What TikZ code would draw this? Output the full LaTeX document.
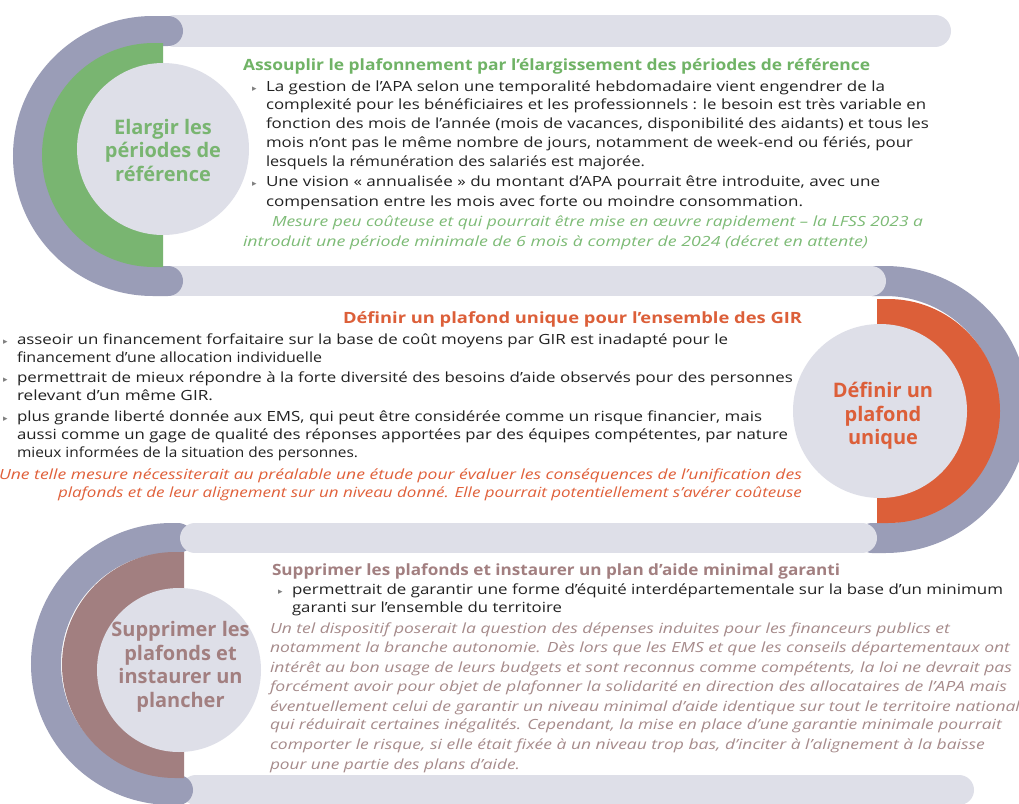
\documentclass[tikz,border=0pt]{standalone}
\usepackage{fontspec}
\setmainfont{Open Sans}
\newfontfamily\symfont{DejaVu Sans}
\usepackage{graphicx}
\definecolor{bandc}{HTML}{DEDFE8}
\definecolor{arcc}{HTML}{9A9DB7}
\definecolor{cgreen}{HTML}{79B571}
\definecolor{tgreen}{HTML}{70B366}
\definecolor{igreen}{HTML}{7DBB76}
\definecolor{corange}{HTML}{DC5F39}
\definecolor{iorange}{HTML}{E0603A}
\definecolor{cmauve}{HTML}{A27F80}
\definecolor{imauve}{HTML}{A68B8B}
\definecolor{bodyc}{HTML}{222222}
\definecolor{bulc}{HTML}{808080}
\newcommand\fitw[2]{\resizebox{#1pt}{\height}{#2}}
\newcommand\Ln[5]{\node[#1] (#2) at (#3) {\fitw{#4}{#5}};}
\begin{document}
\begin{tikzpicture}[x=1pt,y=-1pt,
  txt/.style={anchor=base west,inner sep=0pt,outer sep=0pt},
  body/.style={txt,font=\fontsize{14}{17}\selectfont,text=bodyc},
  bodyit/.style={txt,font=\fontsize{14}{17}\selectfont\itshape},
  ttl/.style={txt,font=\fontsize{15.5}{18}\selectfont\bfseries},
  bul/.style={txt,font=\symfont\fontsize{9}{9}\selectfont,text=bulc},
  lbl/.style={align=center,inner sep=0pt,font=\fontsize{20}{23.5}\selectfont\bfseries},
  bandst/.style={draw=bandc,line width=30pt,line cap=round},
  arcst/.style={draw=arcc,line width=30pt,line cap=round}]
\useasboundingbox (0,0) rectangle (1019,803);
\fill[white] (0,0) rectangle (1019,803);
% bands and arcs
\path[bandst] (196,790) -- (959,790);
\path[arcst] (178,538) -- (172,538) arc[start angle=270,end angle=90,radius=126] -- (178,790);
\path[arcst] (872,281) -- (885,281) arc[start angle=-90,end angle=90,radius=128.5] -- (872,538);
\path[bandst,line width=32pt] (175,31) -- (935,31);
\path[bandst] (170,281) -- (871,281);
\path[bandst] (195,538) -- (862,538);
\path[arcst] (168,31) -- (153,31) arc[start angle=270,end angle=90,radius=125] -- (168,281);
% half disks
\fill[cgreen] (163,43) -- (154,43) arc[start angle=270,end angle=90,radius=112] -- (163,267) -- cycle;
\fill[corange] (877,299) -- (888,299) arc[start angle=-90,end angle=90,radius=112] -- (877,523) -- cycle;
\fill[cmauve] (184,552) -- (175,552) arc[start angle=270,end angle=90,radius=113] -- (184,778) -- cycle;
% inner circles
\fill[bandc] (163,149) circle[radius=86];
\fill[bandc] (880,411) circle[radius=87];
\fill[bandc] (179,670) circle[radius=82];
% circle labels
\node[lbl,text=cgreen] (lbl1) at (163,150) {Elargir les\\périodes de\\référence};
\node[lbl,text=corange] (lbl2) at (883,416) {Définir un\\plafond\\unique};
\node[lbl,text=cmauve] (lbl3) at (180.5,667) {Supprimer les\\plafonds et\\instaurer un\\plancher};
% section 1
\Ln{ttl,text=tgreen}{s1t}{243,70}{627}{Assouplir le plafonnement par l’élargissement des périodes de référence}
\node[bul] (s1b1) at (252,91) {▸};
\node[bul] (s1b2) at (252,186) {▸};
\Ln{body}{s1l1}{266,91}{619}{La gestion de l’APA selon une temporalité hebdomadaire vient engendrer de la}
\Ln{body}{s1l2}{266,109}{660}{complexité pour les bénéficiaires et les professionnels : le besoin est très variable en}
\Ln{body}{s1l3}{266,128}{663}{fonction des mois de l’année (mois de vacances, disponibilité des aidants) et tous les}
\Ln{body}{s1l4}{266,147}{647}{mois n’ont pas le même nombre de jours, notamment de week-end ou fériés, pour}
\Ln{body}{s1l5}{266,166}{379}{lesquels la rémunération des salariés est majorée.}
\Ln{body}{s1l6}{266,186}{614}{Une vision « annualisée » du montant d’APA pourrait être introduite, avec une}
\Ln{body}{s1l7}{266,206}{537}{compensation entre les mois avec forte ou moindre consommation.}
\Ln{bodyit,text=igreen}{s1i1}{272,226}{651}{Mesure peu coûteuse et qui pourrait être mise en œuvre rapidement – la LFSS 2023 a}
\Ln{bodyit,text=igreen}{s1i2}{243,246}{625}{introduit une période minimale de 6 mois à compter de 2024 (décret en attente)}
% section 2
\Ln{ttl,text=corange}{s2t}{343,323}{459}{Définir un plafond unique pour l’ensemble des GIR}
\node[bul] (s2b1) at (3,344) {▸};
\node[bul] (s2b2) at (3,382) {▸};
\node[bul] (s2b3) at (3,421) {▸};
\Ln{body}{s2l1}{17,344}{711}{asseoir un financement forfaitaire sur la base de coût moyens par GIR est inadapté pour le}
\Ln{body}{s2l2}{17,362}{305}{financement d’une allocation individuelle}
\Ln{body}{s2l3}{17,382}{776}{permettrait de mieux répondre à la forte diversité des besoins d’aide observés pour des personnes}
\Ln{body}{s2l4}{17,400}{196}{relevant d’un même GIR.}
\Ln{body}{s2l5}{17,421}{745}{plus grande liberté donnée aux EMS, qui peut être considérée comme un risque financier, mais}
\Ln{body}{s2l6}{17,439}{771}{aussi comme un gage de qualité des réponses apportées par des équipes compétentes, par nature}
\Ln{body}{s2l7}{17,457}{341}{mieux informées de la situation des personnes.}
\Ln{bodyit,text=iorange}{s2i1}{-1,479}{803}{Une telle mesure nécessiterait au préalable une étude pour évaluer les conséquences de l’unification des}
\Ln{bodyit,text=iorange}{s2i2}{58,497}{744}{plafonds et de leur alignement sur un niveau donné. Elle pourrait potentiellement s’avérer coûteuse}
% section 3
\Ln{ttl,text=cmauve}{s3t}{272,575}{568}{Supprimer les plafonds et instaurer un plan d’aide minimal garanti}
\node[bul] (s3b1) at (278,594) {▸};
\Ln{body}{s3l1}{292,594}{711}{permettrait de garantir une forme d’équité interdépartementale sur la base d’un minimum}
\Ln{body}{s3l2}{292,612}{270}{garanti sur l’ensemble du territoire}
\Ln{bodyit,text=imauve}{s3i1}{270,633}{680}{Un tel dispositif poserait la question des dépenses induites pour les financeurs publics et}
\Ln{bodyit,text=imauve}{s3i2}{270,652}{740}{notamment la branche autonomie. Dès lors que les EMS et que les conseils départementaux ont}
\Ln{bodyit,text=imauve}{s3i3}{270,672}{742}{intérêt au bon usage de leurs budgets et sont reconnus comme compétents, la loi ne devrait pas}
\Ln{bodyit,text=imauve}{s3i4}{270,691}{737}{forcément avoir pour objet de plafonner la solidarité en direction des allocataires de l’APA mais}
\Ln{bodyit,text=imauve}{s3i5}{270,711}{750}{éventuellement celui de garantir un niveau minimal d’aide identique sur tout le territoire national}
\Ln{bodyit,text=imauve}{s3i6}{270,729}{732}{qui réduirait certaines inégalités. Cependant, la mise en place d’une garantie minimale pourrait}
\Ln{bodyit,text=imauve}{s3i7}{270,749}{715}{comporter le risque, si elle était fixée à un niveau trop bas, d’inciter à l’alignement à la baisse}
\Ln{bodyit,text=imauve}{s3i8}{270,769}{250}{pour une partie des plans d’aide.}
\end{tikzpicture}
\end{document}
